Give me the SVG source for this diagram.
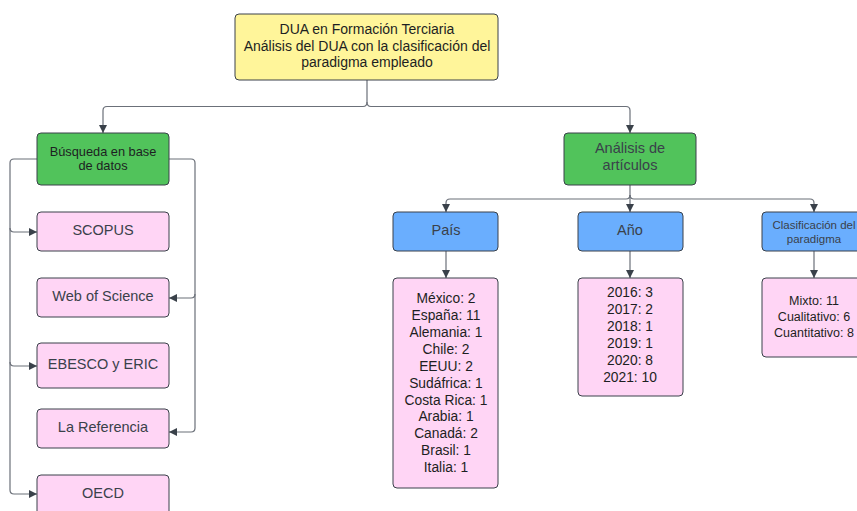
<svg xmlns="http://www.w3.org/2000/svg" width="857" height="511" viewBox="0 0 857 511">
<defs>
<style>
.box{stroke:#3a414a;stroke-width:1;}
.yellow{fill:#fff59a;}
.green{fill:#51c35b;}
.blue{fill:#6aaefe;}
.pink{fill:#ffd5f5;}
text{font-family:"Liberation Sans",Arial,sans-serif;text-anchor:middle;dominant-baseline:central;}
.dark{fill:#1d1f22;font-size:14px;}
.gray{fill:#3a414a;font-size:14.5px;}
.list{fill:#1d1f22;font-size:13.8px;}
.conn{fill:none;stroke:#6b7079;stroke-width:1.2;}
</style>
<marker id="arr" viewBox="0 0 10 10" refX="10" refY="5" markerWidth="8" markerHeight="8" markerUnits="userSpaceOnUse" orient="auto">
<path d="M0,0 L10,5 L0,10 z" fill="#3a414a"/>
</marker>
</defs>
<rect width="857" height="511" fill="#ffffff"/>
<g id="connectors">
<path class="conn" d="M367,80 V102 Q367,106.5 363,106.5 H107 Q103,106.5 103,110.5 V133" marker-end="url(#arr)"/>
<path class="conn" d="M367,102 Q367,106.5 371,106.5 H626 Q630,106.5 630,110.5 V133" marker-end="url(#arr)"/>
<path class="conn" d="M37,159 H14 Q10,159 10,163 V228 Q10,232 14,232 H37" marker-end="url(#arr)"/>
<path class="conn" d="M10,228 V362 Q10,366 14,366 H37" marker-end="url(#arr)"/>
<path class="conn" d="M10,362 V490 Q10,494 14,494 H37" marker-end="url(#arr)"/>
<path class="conn" d="M169,159 H191 Q195,159 195,163 V294 Q195,298 191,298 H169" marker-end="url(#arr)"/>
<path class="conn" d="M195,294 V428 Q195,432 191,432 H169" marker-end="url(#arr)"/>
<path class="conn" d="M630,185 V212" marker-end="url(#arr)"/>
<path class="conn" d="M630,195 Q630,199 626,199 H450 Q446,199 446,203 V212" marker-end="url(#arr)"/>
<path class="conn" d="M630,195 Q630,199 634,199 H810 Q814,199 814,203 V212" marker-end="url(#arr)"/>
<path class="conn" d="M446,251 V278" marker-end="url(#arr)"/>
<path class="conn" d="M630,251 V278" marker-end="url(#arr)"/>
<path class="conn" d="M814,251 V278" marker-end="url(#arr)"/>
</g>
<g id="root">
<rect class="box yellow" x="235" y="14" width="263" height="66" rx="4"/>
<text class="dark" x="367" y="29">DUA en Formación Terciaria</text>
<text class="dark" x="367" y="45.5">Análisis del DUA con la clasificación del</text>
<text class="dark" x="367" y="62">paradigma empleado</text>
</g>
<g id="busqueda">
<rect class="box green" x="37" y="133" width="132" height="52" rx="4"/>
<text class="dark" x="103" y="151.3" style="font-size:12.8px">Búsqueda en base</text>
<text class="dark" x="103" y="165.7" style="font-size:12.8px">de datos</text>
</g>
<g id="scopus">
<rect class="box pink" x="37" y="212" width="132" height="39" rx="4"/>
<text class="gray" x="103" y="230">SCOPUS</text>
</g>
<g id="wos">
<rect class="box pink" x="37" y="278" width="132" height="39" rx="4"/>
<text class="gray" x="103" y="296">Web of Science</text>
</g>
<g id="ebesco">
<rect class="box pink" x="37" y="343" width="132" height="45" rx="4"/>
<text class="gray" x="103" y="364">EBESCO y ERIC</text>
</g>
<g id="lareferencia">
<rect class="box pink" x="37" y="409" width="132" height="39" rx="4"/>
<text class="gray" x="103" y="427">La Referencia</text>
</g>
<g id="oecd">
<rect class="box pink" x="37" y="475" width="132" height="45" rx="4"/>
<text class="gray" x="103" y="493">OECD</text>
</g>
<g id="analisis">
<rect class="box green" x="564" y="133" width="132" height="52" rx="4"/>
<text class="gray" x="630" y="148">Análisis de</text>
<text class="gray" x="630" y="165">artículos</text>
</g>
<g id="pais">
<rect class="box blue" x="393" y="212" width="105" height="39" rx="4"/>
<text class="gray" x="446" y="230">País</text>
</g>
<g id="anio">
<rect class="box blue" x="578" y="212" width="105" height="39" rx="4"/>
<text class="gray" x="630" y="230">Año</text>
</g>
<g id="clasificacion">
<rect class="box blue" x="762" y="212" width="105" height="39" rx="4"/>
<text class="gray" x="814" y="225" style="font-size:11.5px">Clasificación del</text>
<text class="gray" x="814" y="239" style="font-size:11.5px">paradigma</text>
</g>
<g id="pais-list">
<rect class="box pink" x="393" y="278" width="105" height="210" rx="4"/>
<text class="list" x="446" y="298">México: 2</text>
<text class="list" x="446" y="315">España: 11</text>
<text class="list" x="446" y="332">Alemania: 1</text>
<text class="list" x="446" y="349">Chile: 2</text>
<text class="list" x="446" y="366">EEUU: 2</text>
<text class="list" x="446" y="383">Sudáfrica: 1</text>
<text class="list" x="446" y="400">Costa Rica: 1</text>
<text class="list" x="446" y="416">Arabia: 1</text>
<text class="list" x="446" y="433">Canadá: 2</text>
<text class="list" x="446" y="450">Brasil: 1</text>
<text class="list" x="446" y="467">Italia: 1</text>
</g>
<g id="anio-list">
<rect class="box pink" x="578" y="278" width="105" height="118" rx="4"/>
<text class="list" x="630" y="292">2016: 3</text>
<text class="list" x="630" y="309">2017: 2</text>
<text class="list" x="630" y="326">2018: 1</text>
<text class="list" x="630" y="343">2019: 1</text>
<text class="list" x="630" y="360">2020: 8</text>
<text class="list" x="630" y="377">2021: 10</text>
</g>
<g id="clasificacion-list">
<rect class="box pink" x="762" y="278" width="105" height="79" rx="4"/>
<text class="list" x="814" y="301" style="font-size:12.5px">Mixto: 11</text>
<text class="list" x="814" y="317" style="font-size:12.5px">Cualitativo: 6</text>
<text class="list" x="814" y="333" style="font-size:12.5px">Cuantitativo: 8</text>
</g>
</svg>
